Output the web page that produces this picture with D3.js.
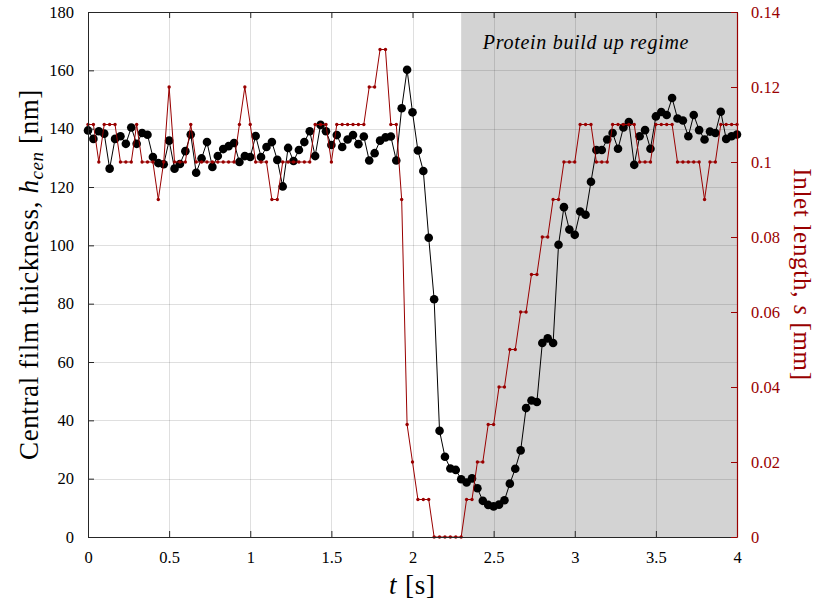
<!DOCTYPE html>
<html>
<head>
<meta charset="utf-8">
<script src="https://cdn.jsdelivr.net/npm/d3@7"></script>
<style>
  html, body { margin: 0; padding: 0; background: #fff; }
  svg { display: block; }
  text { font-family: "Liberation Serif", "DejaVu Serif", serif; }
</style>
</head>
<body>
<div id="chart"></div>
<script>
// ---------- data ----------
const frameRate = 30;                 // samples per second
const sampleIndex = d3.range(121);    // sample number 0..120
// Central film thickness h_cen [nm]
const hCen = [
  139.4,136.5,139.1,138.3,126.3,136.5,137.4,134.8,140.4,134.8,
  138.5,137.9,130.3,128.2,127.8,135.9,126.3,127.9,132.3,138.0,
  124.9,129.8,135.4,126.9,130.6,133.0,134.0,135.1,128.6,130.6,
  130.3,137.5,130.3,133.7,135.4,129.3,120.2,133.4,128.9,132.7,
  135.4,139.1,130.6,141.3,139.1,134.4,137.8,133.7,136.3,137.8,
  134.7,137.3,129.1,131.6,135.9,137.0,137.3,129.1,147.0,160.2,
  145.6,132.5,125.5,102.6,81.5,36.4,27.5,23.5,23.0,19.8,
  18.7,20.1,16.7,12.4,11.0,10.5,11.1,12.6,18.3,23.4,
  29.7,44.2,46.8,46.3,66.5,68.1,66.5,100.2,113.1,105.4,
  103.6,111.6,110.5,121.8,132.7,132.7,136.3,138.5,133.1,140.4,
  142.3,127.6,137.4,139.5,133.1,144.2,145.7,144.7,150.5,143.5,
  142.8,137.4,144.7,139.5,136.3,139.0,138.5,145.8,136.5,137.4,
  138.0
];
// Inlet length s [mm]
const inletLength = [
  0.11,0.11,0.10,0.11,0.11,0.11,0.10,0.10,0.10,0.11,
  0.10,0.10,0.10,0.09,0.10,0.12,0.10,0.10,0.10,0.11,
  0.10,0.10,0.10,0.10,0.10,0.10,0.10,0.10,0.11,0.12,
  0.11,0.10,0.10,0.10,0.09,0.09,0.10,0.10,0.10,0.10,
  0.10,0.10,0.11,0.11,0.11,0.10,0.11,0.11,0.11,0.11,
  0.11,0.11,0.12,0.12,0.13,0.13,0.11,0.11,0.09,0.03,
  0.02,0.01,0.01,0.01,0.00,0.00,0.00,0.00,0.00,0.00,
  0.01,0.01,0.02,0.02,0.03,0.03,0.04,0.04,0.05,0.05,
  0.06,0.06,0.07,0.07,0.08,0.08,0.09,0.09,0.10,0.10,
  0.10,0.11,0.11,0.11,0.10,0.10,0.10,0.11,0.11,0.11,
  0.11,0.11,0.10,0.10,0.10,0.11,0.11,0.11,0.11,0.10,
  0.10,0.10,0.10,0.10,0.09,0.10,0.10,0.11,0.11,0.11,
  0.11
];
const xTicks = [0, 0.5, 1, 1.5, 2, 2.5, 3, 3.5, 4];
const xTickLabels = ["0", "0.5", "1", "1.5", "2", "2.5", "3", "3.5", "4"];
const yLeftTicks = [0, 20, 40, 60, 80, 100, 120, 140, 160, 180];
const yRightTicks = [0, 0.02, 0.04, 0.06, 0.08, 0.1, 0.12, 0.14];
const yRightTickLabels = ["0", "0.02", "0.04", "0.06", "0.08", "0.1", "0.12", "0.14"];
const regimeRange = [2.3, 4];
const regimeLabel = "Protein build up regime";

// ---------- layout ----------
const W = 818, H = 608;
const m = { left: 88, top: 12, right: 81, bottom: 71 };
const pw = W - m.left - m.right, ph = H - m.top - m.bottom;
const RED = "#990000";

const svg = d3.select("#chart").append("svg").attr("width", W).attr("height", H);

const x = d3.scaleLinear().domain([0, 4]).range([m.left, m.left + pw]);
const yL = d3.scaleLinear().domain([0, 180]).range([m.top + ph, m.top]);
const yR = d3.scaleLinear().domain([0, 0.14]).range([m.top + ph, m.top]);

const t = sampleIndex.map(i => i / frameRate);
const black = t.map((tt, i) => ({ t: tt, v: hCen[i] }));
const red = t.map((tt, i) => ({ t: tt, v: inletLength[i] }));

// shaded regime
svg.append("rect")
  .attr("x", x(regimeRange[0])).attr("y", m.top)
  .attr("width", x(regimeRange[1]) - x(regimeRange[0]))
  .attr("height", ph)
  .attr("fill", "#d3d3d3");

// grid
const grid = svg.append("g").attr("stroke", "rgba(38,38,38,0.15)").attr("stroke-width", 1);
xTicks.forEach(v => grid.append("line")
  .attr("x1", Math.round(x(v)) + 0.5).attr("x2", Math.round(x(v)) + 0.5)
  .attr("y1", m.top).attr("y2", m.top + ph));
yLeftTicks.forEach(v => grid.append("line")
  .attr("x1", m.left).attr("x2", m.left + pw)
  .attr("y1", Math.round(yL(v)) + 0.5).attr("y2", Math.round(yL(v)) + 0.5));

svg.append("text")
  .attr("x", 586).attr("y", 49)
  .attr("text-anchor", "middle")
  .attr("font-size", 20).attr("font-style", "italic")
  .attr("letter-spacing", 0.7)
  .text(regimeLabel);

// black series
svg.append("path").datum(black)
  .attr("fill", "none").attr("stroke", "#000").attr("stroke-width", 1)
  .attr("d", d3.line().x(d => x(d.t)).y(d => yL(d.v)));
svg.append("g").selectAll("circle").data(black).join("circle")
  .attr("cx", d => x(d.t)).attr("cy", d => yL(d.v)).attr("r", 4.3).attr("fill", "#000");

// red series
svg.append("path").datum(red)
  .attr("fill", "none").attr("stroke", RED).attr("stroke-width", 1)
  .attr("d", d3.line().x(d => x(d.t)).y(d => yR(d.v)));
svg.append("g").selectAll("circle").data(red).join("circle")
  .attr("cx", d => x(d.t)).attr("cy", d => yR(d.v)).attr("r", 1.7).attr("fill", RED);

// axes
const tickLen = 6;
const bottomAxis = svg.append("g").attr("transform", `translate(0,${m.top + ph})`)
  .call(d3.axisBottom(x).tickValues(xTicks).tickFormat((d, i) => xTickLabels[i]).tickSizeInner(-tickLen).tickSizeOuter(0).tickPadding(14));
const topAxis = svg.append("g").attr("transform", `translate(0,${m.top})`)
  .call(d3.axisTop(x).tickValues(xTicks).tickFormat("").tickSizeInner(-tickLen).tickSizeOuter(0));
const leftAxis = svg.append("g").attr("transform", `translate(${m.left},0)`)
  .call(d3.axisLeft(yL).tickValues(yLeftTicks).tickFormat(d3.format("d")).tickSizeInner(-tickLen).tickSizeOuter(0).tickPadding(14));
const rightAxis = svg.append("g").attr("transform", `translate(${m.left + pw},0)`)
  .call(d3.axisRight(yR).tickValues(yRightTicks).tickFormat((d, i) => yRightTickLabels[i]).tickSizeInner(-tickLen).tickSizeOuter(0).tickPadding(14));

[bottomAxis, topAxis, leftAxis].forEach(a => {
  a.select(".domain").attr("stroke", "#262626").attr("stroke-width", 1);
  a.selectAll(".tick line").attr("stroke", "#262626");
  a.selectAll("text").attr("font-family", "Liberation Serif").attr("font-size", 16.5).attr("fill", "#000");
});
rightAxis.select(".domain").attr("stroke", RED).attr("stroke-width", 1.2);
rightAxis.selectAll(".tick line").attr("stroke", RED);
rightAxis.selectAll("text").attr("font-family", "Liberation Serif").attr("font-size", 16.5).attr("fill", RED);

// axis labels
const yl = svg.append("text")
  .attr("transform", `translate(38,${m.top + ph / 2}) rotate(-90)`)
  .attr("text-anchor", "middle").attr("font-size", 27).attr("letter-spacing", 0.6).attr("fill", "#000");
yl.append("tspan").text("Central film thickness, ");
yl.append("tspan").attr("font-style", "italic").text("h");
yl.append("tspan").attr("font-style", "italic").attr("font-size", 19).attr("dy", 5).text("cen");
yl.append("tspan").attr("dy", -5).text(" [nm]");

const xl = svg.append("text")
  .attr("x", x(2)).attr("y", 594)
  .attr("text-anchor", "middle").attr("font-size", 27).attr("letter-spacing", 0.8);
xl.append("tspan").attr("font-style", "italic").text("t");
xl.append("tspan").text(" [s]");

const rl = svg.append("text")
  .attr("transform", `translate(794,${m.top + ph / 2}) rotate(90)`)
  .attr("text-anchor", "middle").attr("font-size", 25).attr("letter-spacing", 0.7).attr("fill", RED);
rl.append("tspan").text("Inlet length, ");
rl.append("tspan").attr("font-style", "italic").text("s");
rl.append("tspan").text(" [mm]");
</script>
</body>
</html>
